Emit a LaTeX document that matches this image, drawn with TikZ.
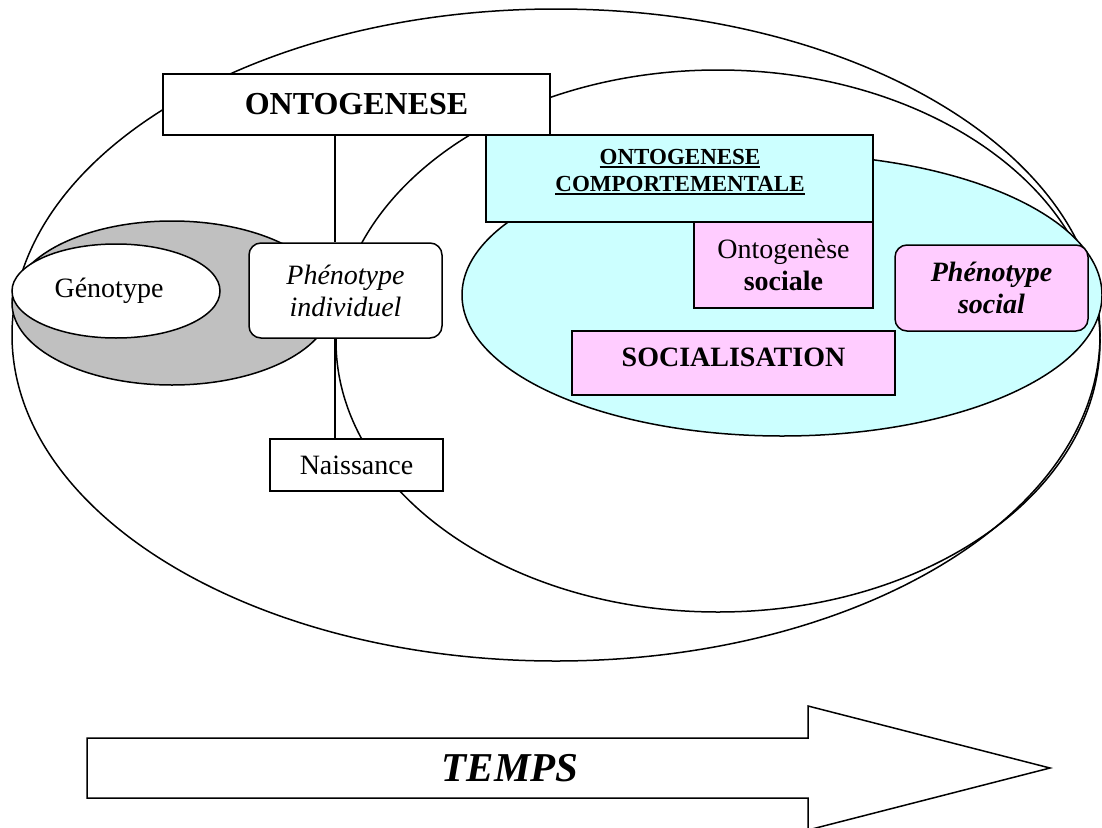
\documentclass[tikz,border=0pt]{standalone}
\usepackage{fontspec}
\setmainfont{Liberation Serif}
\usetikzlibrary{shapes.geometric}
\definecolor{paleCyan}{HTML}{CCFFFF}
\definecolor{palePink}{HTML}{FFCCFF}
\definecolor{shadeGray}{HTML}{C0C0C0}
\newcommand\fsz[2]{\fontsize{#1}{#2}\selectfont}
% underline with a heavier rule set just below the baseline
\newcommand\thickul[1]{\leavevmode\vtop{\hbox{#1}\kern1.5pt\hrule height 1.5pt}}

\begin{document}
\begin{tikzpicture}[x=1pt, y=-1pt, line width=1.5pt,
  box/.style={draw, rectangle, inner sep=0pt, align=center, fill=white},
  pinkbox/.style={box, fill=palePink},
  roundbox/.style={box, rounded corners=12pt},
  plaintext/.style={font=\fsz{28}{32}},
]
\useasboundingbox (0,0) rectangle (1102,827);
\clip (0,0) rectangle (1102,827);

% large enclosing ellipses
\draw (556,335) ellipse [x radius=544pt, y radius=326pt];
\draw[fill=shadeGray] (172,303) ellipse [x radius=160pt, y radius=82pt];
\node[draw, ellipse, fill=white, minimum width=208pt, minimum height=94pt,
      inner sep=0pt, plaintext] (geno) at (116,291) {Génotype\hspace*{14pt}};
\draw (718,341) ellipse [x radius=382pt, y radius=271pt];
\draw[fill=paleCyan] (782,295) ellipse [x radius=320pt, y radius=141pt];

% boxes
\node[box, minimum width=387pt, minimum height=61pt,
      font=\bfseries\fsz{32}{36}] (onto) at (356.5,104.5) {ONTOGENESE};
\node[roundbox, minimum width=193pt, minimum height=95pt,
      font=\itshape\fsz{28}{32}] (phenind) at (345.5,290.5) {Phénotype\\individuel};
\node[box, minimum width=173pt, minimum height=52pt, plaintext]
      (naiss) at (356.5,465) {Naissance};

\node[box, fill=paleCyan, minimum width=387pt, minimum height=87pt]
      (compbox) at (679.5,178.5) {};
\node[align=center, inner sep=0pt, font=\bfseries\fsz{23}{27}]
      (comptext) at (680,172) {\thickul{ONTOGENESE}\\\thickul{COMPORTEMENTALE}};

\node[pinkbox, minimum width=179pt, minimum height=86pt, plaintext]
      (ontosoc) at (783.5,265) {Ontogenèse\\\textbf{sociale}};
\node[pinkbox, rounded corners=12pt, minimum width=193pt, minimum height=86pt,
      font=\bfseries\itshape\fsz{28}{32}] (phensoc) at (991.5,288) {Phénotype\\social};
\node[pinkbox, minimum width=323pt, minimum height=64pt,
      font=\bfseries\fsz{28}{32}] (social) at (733.5,363)
      {SOCIALISATION\rule[-12pt]{0pt}{12pt}};

% vertical axis linking the stages
\coordinate (axis) at (335,0);
\draw (onto.south -| axis) -- (phenind.north -| axis);
\draw (phenind.south -| axis) -- (naiss.north -| axis);

% time arrow
\draw[fill=white] (87,738) -- (808,738) -- (808,706) -- (1050,768)
      -- (808,830) -- (808,798) -- (87,798) -- cycle;
\node[font=\bfseries\itshape\fsz{41}{45}] (temps) at (510,768) {TEMPS};
\end{tikzpicture}
\end{document}
